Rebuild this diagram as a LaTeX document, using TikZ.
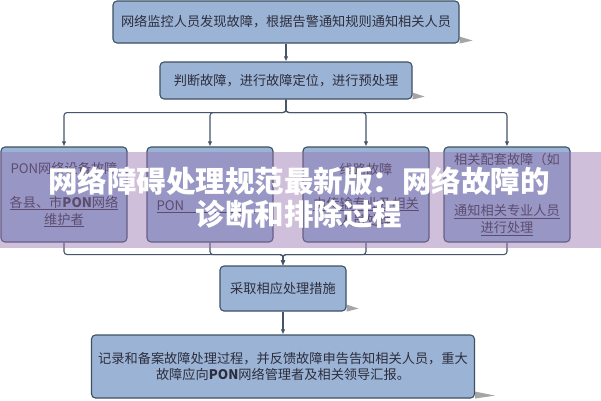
\documentclass[tikz,border=0pt]{standalone}
\usepackage{fontspec}
\usepackage{xcolor}
\usetikzlibrary{arrows.meta,backgrounds}
\newfontfamily\cjk{Noto Sans CJK SC}
\definecolor{boxblue}{RGB}{155,180,214}
\definecolor{boxline}{RGB}{62,80,100}
\definecolor{linkgray}{RGB}{70,85,105}
\definecolor{txtgray}{RGB}{45,45,60}
\definecolor{bandpurple}{RGB}{150,115,175}
\definecolor{shadowgray}{RGB}{165,165,165}
\tikzset{
  stepbox/.style={draw=boxline, line width=1.1pt, fill=boxblue, rounded corners=4pt, text=txtgray, font=\cjk\fontsize{13.2}{17}\selectfont, align=center, inner sep=0pt},
  link/.style={draw=linkgray, line width=1.1pt, rounded corners=3pt, -{Latex[length=5pt,width=4.5pt]}},
}
\begin{document}
\begin{tikzpicture}[x=1pt,y=1pt,yscale=-1]
        \useasboundingbox (0,0) rectangle (601,400);
        \begin{scope}[on background layer]
        \fill[white] (0,0) rectangle (601,400);
        \end{scope}

        %Shape: Rectangle [top]
        \node[stepbox, minimum width=346, minimum height=42] (report) at (286,22) {网络监控人员发现故障，根据告警通知规则通知相关人员};
        %Shape: Rectangle [judge]
        \node[stepbox, minimum width=252, minimum height=37] (judge) at (286,80.5) {判断故障，进行故障定位，进行预处理};

        %Shape: Rectangle [four kinds of fault]
        \node[stepbox, minimum width=126, minimum height=95] (pon) at (64,194.5) {PON网络设备故障\\ \mbox{}\\ \underline{各县、市\textbf{PON}网络}\\ \underline{维护者}};
        \node[stepbox, minimum width=126, minimum height=95] (olt) at (210,194.5) {\mbox{}\\ \mbox{}\\ \underline{PON\hphantom{网络维护者处}}};
        \node[stepbox, minimum width=126, minimum height=95] (cable) at (366,194.5) {线路故障\\ \mbox{}\\ \underline{由传输专业及相关}\\ 人员处理};
        \node[stepbox, minimum width=126, minimum height=95] (aux) at (507,194.5) {相关配套故障（如\\ \mbox{}\\ \mbox{}\\ \underline{通知相关专业人员}\\ \underline{进行处理}};

        %Shape: Rectangle [act]
        \node[stepbox, minimum width=126, minimum height=45] (act) at (283,288.5) {采取相应处理措施};
        %Shape: Rectangle [record]
        \node[stepbox, minimum width=383, minimum height=63, font=\cjk\fontsize{13.2}{16.5}\selectfont] (record) at (283,366.5) {记录和备案故障处理过程，并反馈故障申告告知相关人员，重大\\故障应向\textbf{PON}网络管理者及相关领导汇报。};

        %Shadows
        \begin{scope}[on background layer]
        \foreach \b/\w in {report/13,judge/12,act/12,record/20}
          \fill[shadowgray] (\b.south east) ++(0,-7) -- ++(\w,4) -- (\b.south east) -- cycle;
        \end{scope}

        % Connectors
        \draw[link] (report.south) -- (judge.north);
        \foreach \b in {pon,olt,cable,aux}
          \draw[link] (judge.south) -- ++(0,13) -| (\b.north);
        \foreach \b in {pon,olt,cable,aux}
          \draw[link] (\b.south) -- ++(0,12) -| (act.north);
        \draw[link] (act.south) -- (record.north);

        %Shape: Band over the picture
        \fill[bandpurple, opacity=0.45] (0,152) rectangle (601,248);
        % Text Node
        \node[font=\cjk\bfseries\fontsize{29.5}{33}\selectfont, text=white, align=center, inner sep=0pt] (title) at (299,198) {网络障碍处理规范最新版：网络故障的\\诊断和排除过程};

\end{tikzpicture}
\end{document}
